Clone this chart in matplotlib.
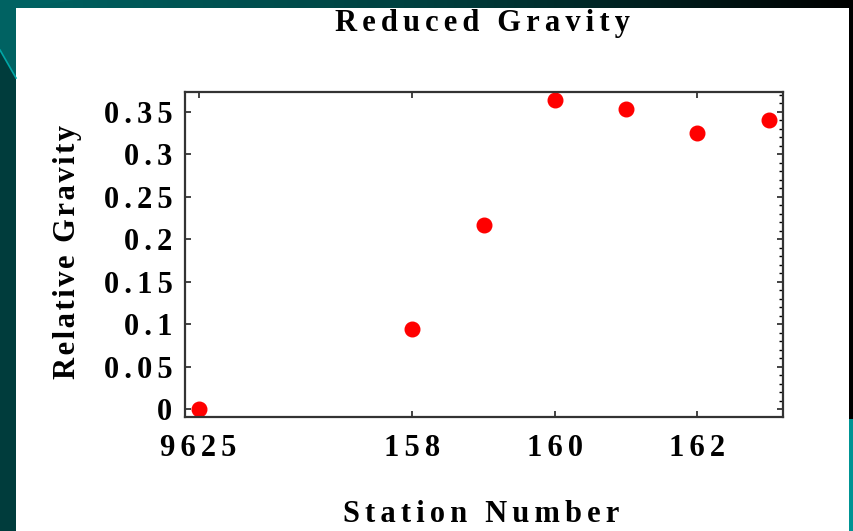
import numpy as np
import matplotlib
matplotlib.use('Agg')
import matplotlib.pyplot as plt
from matplotlib.patches import Polygon, Rectangle
from matplotlib.ticker import FixedLocator, MultipleLocator

# Gravity survey: reduced relative gravity per station
station_pos = [155, 158, 159, 160, 161, 162, 163]
gravity = [0.0, 0.094, 0.217, 0.364, 0.353, 0.325, 0.340]

xtick_pos = [155, 158, 160, 162]
xtick_labels = ['9625', '158', '160', '162']
ytick_vals = [0, 0.05, 0.1, 0.15, 0.2, 0.25, 0.3, 0.35]
ytick_labels = ['0', '0.05', '0.1', '0.15', '0.2', '0.25', '0.3', '0.35']

FONT = dict(family=['Liberation Serif', 'DejaVu Serif'], weight='bold')
W, H = 854, 531

def sp(s, gap='\u2006'):  # spread letters out a little
    return gap.join(s)

fig = plt.figure(figsize=(W / 100, H / 100), dpi=100, facecolor='#003c3c')

# slide background
bg = fig.add_axes([0, 0, 1, 1], zorder=-10)
bg.set_xlim(0, W); bg.set_ylim(H, 0); bg.axis('off')
grad = np.linspace(0, 1, 256)[None, :]
bg.imshow(grad, extent=[0, W, 9, 0], aspect='auto', cmap=matplotlib.colors.LinearSegmentedColormap.from_list(
    'strip', ['#006464', '#00403f', '#000000']))
bg.add_patch(Polygon([[0, 0], [75, 0], [16, 9], [16, 78], [0, 50]], closed=True, color='#006262', lw=0))
bg.plot([0, 16], [50, 78], color='#00a6a6', lw=1.2)
bg.add_patch(Rectangle((849, 9), 5, 410, color='#000000', lw=0))
bg.add_patch(Rectangle((849, 419), 5, 112, color='#009494', lw=0))
bg.add_patch(Rectangle((16, 8), 833, 523, color='#ffffff', lw=0))

ax = fig.add_axes([185 / W, 1 - 417 / H, (783 - 185) / W, (417 - 92) / H])
ax.plot(station_pos, gravity, 'o', color='#ff0000', ms=10.5, mec='#ff0000', clip_on=False)

ax.set_xlim(154.81, 163.2)
ax.set_ylim(-0.009, 0.373)

ax.xaxis.set_major_locator(FixedLocator(xtick_pos))
ax.set_xticklabels([sp(t) for t in xtick_labels], fontsize=22, **FONT)
ax.yaxis.set_major_locator(FixedLocator(ytick_vals))
ax.set_yticklabels([sp(t) for t in ytick_labels], fontsize=22, **FONT)

ax.tick_params(direction='in', length=4, width=1.2, color='#222222', top=True, right=True)
ax.tick_params(axis='x', pad=12)
ax.tick_params(axis='y', pad=9)
ax.yaxis.set_minor_locator(MultipleLocator(0.01))
ax.tick_params(axis='y', which='minor', direction='in', length=3, width=1.0, left=False, right=True)

for s in ax.spines.values():
    s.set_linewidth(1.6)
    s.set_color('#333333')

fig.text(482 / W, 1 - 24 / H, sp('Reduced Gravity'), ha='center', va='center', fontsize=22, **FONT)
fig.text(481 / W, 1 - 514 / H, sp('Station Number'), ha='center', va='center', fontsize=22, **FONT)
fig.text(68 / W, 1 - 252 / H, sp('Relative Gravity', '\u200a'), ha='center', va='center',
         rotation=90, fontsize=22, **FONT)

fig.savefig('out.png', dpi=100, facecolor=fig.get_facecolor())
